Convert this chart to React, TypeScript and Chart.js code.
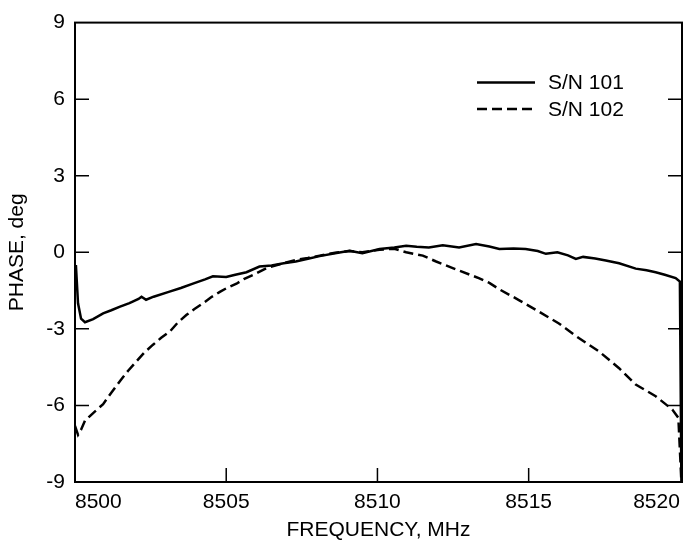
import React, { useEffect, useRef } from "react";
import { Chart, registerables } from "chart.js";

Chart.register(...registerables);

const FONT = "'Liberation Sans', Arial, Helvetica, sans-serif";

const xTicks = [8500, 8505, 8510, 8515, 8520];
const yTicks = [-9, -6, -3, 0, 3, 6, 9];
const seriesLabels = ["S/N 101", "S/N 102"];
const xTitle = "FREQUENCY, MHz";
const yTitle = "PHASE, deg";

const freq101 = [
  8500.03, 8500.1, 8500.2, 8500.33, 8500.6, 8500.93, 8501.2, 8501.49, 8501.8, 8502.1,
  8502.2, 8502.35, 8502.6, 8503.1, 8503.5, 8503.9, 8504.3, 8504.56, 8505.0, 8505.3,
  8505.67, 8506.1, 8506.5, 8506.9, 8507.3, 8507.7, 8508.09, 8508.6, 8509.08, 8509.5,
  8510.07, 8510.56, 8510.95, 8511.3, 8511.7, 8512.16, 8512.7, 8513.26, 8513.7, 8514.03,
  8514.5, 8514.9, 8515.3, 8515.57, 8515.95, 8516.3, 8516.56, 8516.8, 8517.2, 8517.55,
  8517.99, 8518.54, 8518.9, 8519.2, 8519.5, 8519.86, 8520.0, 8520.05,
];
const phase101 = [
  -0.5, -2.0, -2.6, -2.74, -2.62, -2.39, -2.27, -2.13, -1.99, -1.83,
  -1.74, -1.86, -1.74, -1.55, -1.4, -1.23, -1.06, -0.94, -0.97, -0.88,
  -0.78, -0.56, -0.52, -0.43, -0.36, -0.25, -0.15, -0.04, 0.06, -0.04,
  0.13, 0.19, 0.26, 0.22, 0.19, 0.28, 0.19, 0.32, 0.23, 0.13,
  0.15, 0.13, 0.05, -0.06, 0.0, -0.12, -0.26, -0.18, -0.24, -0.32,
  -0.43, -0.64, -0.7, -0.78, -0.88, -1.01, -1.15, -9,
];

const freq102 = [
  8500.0, 8500.1, 8500.2, 8500.33, 8500.6, 8500.93, 8501.2, 8501.49, 8501.75, 8502.04,
  8502.3, 8502.58, 8502.85, 8503.14, 8503.4, 8503.69, 8503.95, 8504.23, 8504.5, 8504.79,
  8505.05, 8505.34, 8505.6, 8505.9, 8506.33, 8506.77, 8507.3, 8507.7, 8508.09, 8508.6,
  8509.08, 8509.5, 8510.07, 8510.56, 8510.95, 8511.5, 8511.94, 8512.49, 8513.04, 8513.37,
  8513.7, 8514.03, 8514.69, 8515.35, 8516.0, 8516.67, 8517.33, 8517.99, 8518.54, 8519.2,
  8519.75, 8519.95, 8520.05,
];
const phase102 = [
  -6.8, -7.15, -6.95, -6.6, -6.3, -5.95, -5.5, -5.04, -4.65, -4.26,
  -3.92, -3.62, -3.35, -3.1, -2.75, -2.45, -2.22, -2.0, -1.76, -1.55,
  -1.38, -1.23, -1.04, -0.88, -0.62, -0.47, -0.3, -0.22, -0.13, -0.02,
  0.05, 0.0, 0.1, 0.14, 0.0, -0.13, -0.36, -0.62, -0.87, -1.02,
  -1.2, -1.45, -1.88, -2.33, -2.79, -3.37, -3.89, -4.54, -5.18, -5.64,
  -6.16, -6.49, -9,
];

const toPoints = (xs: number[], ys: number[]) => xs.map((x, i) => ({ x, y: ys[i] }));

const framePlugin = {
  id: "frameTicks",
  afterDatasetsDraw(chart: any) {
    const { ctx, chartArea: a, scales } = chart;
    const tl = 14;
    ctx.save();
    ctx.strokeStyle = "#000";
    ctx.lineWidth = 1.5;
    ctx.beginPath();
    yTicks.forEach((v) => {
      if (v === -9 || v === 9) return;
      const y = scales.y.getPixelForValue(v);
      ctx.moveTo(a.left, y);
      ctx.lineTo(a.left + tl, y);
      ctx.moveTo(a.right, y);
      ctx.lineTo(a.right - tl, y);
    });
    xTicks.forEach((v) => {
      const x = scales.x.getPixelForValue(v);
      if (x <= a.left + 2 || x >= a.right - 4) return;
      ctx.moveTo(x, a.bottom);
      ctx.lineTo(x, a.bottom - tl);
    });
    ctx.stroke();
    ctx.lineWidth = 2;
    ctx.strokeRect(a.left, a.top, a.right - a.left, a.bottom - a.top);
    ctx.restore();
  },
  afterDraw(chart: any) {
    const { ctx, chartArea: a } = chart;
    ctx.save();
    chart.data.datasets.forEach((ds: any, i: number) => {
      const y = a.top + 60 + i * 26.5;
      ctx.strokeStyle = "#000";
      ctx.lineWidth = 2.5;
      ctx.setLineDash(ds.borderDash || []);
      ctx.beginPath();
      ctx.moveTo(a.left + 402, y);
      ctx.lineTo(a.left + 460, y);
      ctx.stroke();
      ctx.setLineDash([]);
      ctx.fillStyle = "#000";
      ctx.font = `21px ${FONT}`;
      ctx.textBaseline = "middle";
      ctx.textAlign = "left";
      ctx.fillText(ds.label, a.left + 473, y + 1);
    });
    ctx.restore();
  },
};

export default function App() {
  const ref = useRef<HTMLCanvasElement | null>(null);
  useEffect(() => {
    if (!ref.current) return;
    const chart = new Chart(ref.current, {
      type: "line",
      data: {
        datasets: [
          {
            label: seriesLabels[0],
            data: toPoints(freq101, phase101),
            borderColor: "#000",
            borderWidth: 2.5,
            pointRadius: 0,
            fill: false,
            tension: 0,
          },
          {
            label: seriesLabels[1],
            data: toPoints(freq102, phase102),
            borderColor: "#000",
            borderWidth: 2.5,
            borderDash: [10, 5],
            pointRadius: 0,
            fill: false,
            tension: 0,
          },
        ],
      },
      options: {
        animation: false,
        responsive: false,
        layout: { padding: { top: 10, right: 18, left: 0, bottom: 0 } },
        plugins: { legend: { display: false }, tooltip: { enabled: false } },
        scales: {
          x: {
            type: "linear",
            min: 8500,
            max: 8520.07,
            afterBuildTicks: (s: any) => {
              s.ticks = xTicks.map((v) => ({ value: v }));
            },
            afterFit: (s: any) => {
              s.height = 65;
            },
            grid: { display: false, drawTicks: false },
            border: { display: false },
            ticks: {
              align: "inner",
              color: "#000",
              font: { family: FONT, size: 21 },
              padding: 8,
              maxRotation: 0,
              autoSkip: false,
              callback: (v: any) => String(v),
            },
            title: {
              display: true,
              text: xTitle,
              color: "#000",
              font: { family: FONT, size: 21 },
              padding: { top: 0, bottom: 4 },
            },
          },
          y: {
            type: "linear",
            min: -9,
            max: 9,
            afterBuildTicks: (s: any) => {
              s.ticks = yTicks.map((v) => ({ value: v }));
            },
            afterFit: (s: any) => {
              s.width = 75;
            },
            grid: { display: false, drawTicks: false },
            border: { display: false },
            ticks: {
              color: "#000",
              font: { family: FONT, size: 21 },
              padding: 10,
              callback: (v: any) => String(v),
            },
            title: {
              display: true,
              text: yTitle,
              color: "#000",
              font: { family: FONT, size: 21 },
              padding: { top: 5, bottom: 0 },
            },
          },
        },
      },
      plugins: [framePlugin],
    } as any);
    return () => chart.destroy();
  }, []);
  return (
    <div style={{ position: "fixed", left: 0, top: 0, width: 700, height: 547, background: "#fff" }}>
      <canvas ref={ref} width={700} height={547} style={{ display: "block" }} />
    </div>
  );
}
